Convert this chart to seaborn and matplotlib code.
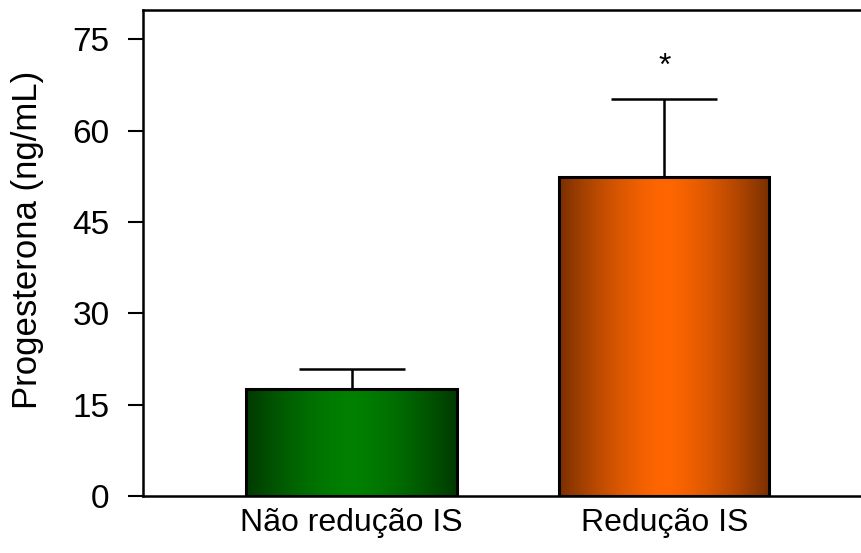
import numpy as np
import pandas as pd
import matplotlib
matplotlib.use("Agg")
import matplotlib.pyplot as plt
import seaborn as sns
from matplotlib.colors import LinearSegmentedColormap

# Data
groups = ["Não redução IS", "Redução IS"]
progesterone = [17.6, 52.4]
sem = [3.2, 12.8]
significance = ["", "*"]

center_colors = ["#008000", "#FF6600"]
edge_colors = ["#003A00", "#7A2F00"]

sns.set_theme(style="white")
plt.rcParams["font.family"] = ["Liberation Sans", "DejaVu Sans"]
plt.rcParams["text.color"] = "black"
plt.rcParams["axes.labelcolor"] = "black"
plt.rcParams["xtick.color"] = "black"
plt.rcParams["ytick.color"] = "black"

fig = plt.figure(figsize=(8.62, 5.53), dpi=100)
ax = fig.add_axes([143 / 862, 1 - 496 / 553, 1 - 143 / 862 + 0.01, (496 - 10) / 553])

df = pd.DataFrame({"grupo": groups, "valor": progesterone})
sns.barplot(data=df, x="grupo", y="valor", ax=ax, width=0.673,
            color="white", edgecolor="black", linewidth=2.2, errorbar=None,
            zorder=2)

# Horizontal gradient fill (dark edges, bright centre) clipped to each bar
t = np.linspace(-1, 1, 256)
profile = 1 - np.abs(t) ** 1.5
for patch, c0, c1 in zip(ax.patches, center_colors, edge_colors):
    cmap = LinearSegmentedColormap.from_list("g", [c1, c0])
    x0, y0 = patch.get_x(), patch.get_y()
    w, h = patch.get_width(), patch.get_height()
    img = ax.imshow(profile[np.newaxis, :], cmap=cmap, aspect="auto",
                    extent=[x0, x0 + w, y0, y0 + h], zorder=2.5,
                    interpolation="bicubic", vmin=0, vmax=1)
    img.set_clip_path(patch)
    patch.set_zorder(3)
    patch.set_facecolor("none")

# Upper error bars only
xpos = np.arange(len(groups))
ax.errorbar(xpos, progesterone, yerr=[np.zeros(len(sem)), sem], fmt="none",
            ecolor="black", elinewidth=1.8, capsize=38, capthick=1.8, zorder=1)

for x, v, e, s in zip(xpos, progesterone, sem, significance):
    if s:
        ax.text(x, v + e + 2.8, s, ha="center", va="bottom", fontsize=23)

ax.set_xlim(-0.667, 1.66)
ax.set_ylim(0, 79.8)
ax.set_yticks([0, 15, 30, 45, 60, 75])
ax.set_xlabel("")
ax.set_ylabel("Progesterona (ng/mL)", fontsize=25)
ax.yaxis.set_label_coords(-0.136, 0.527)
ax.tick_params(axis="y", labelsize=24, length=11, width=1.5, left=True,
               direction="out", pad=13)
ax.tick_params(axis="x", labelsize=23, length=0, pad=9)
for side in ["left", "bottom", "top"]:
    ax.spines[side].set_color("black")
    ax.spines[side].set_linewidth(1.8)
ax.spines["right"].set_visible(False)

fig.savefig("out.png", dpi=100)
